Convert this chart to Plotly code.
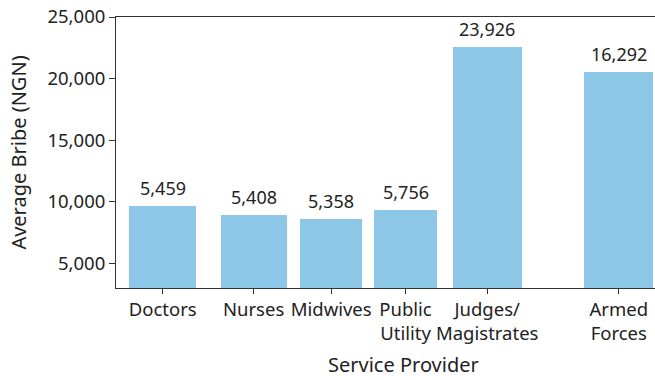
import plotly.graph_objects as go

# Data
categories = ["Doctors", "Nurses", "Midwives", "Public<br>Utility", "Judges/<br>Magistrates", "Armed<br>Forces"]
bar_heights = [9650, 8890, 8620, 9300, 22560, 20570]   # drawn bar heights
value_labels = ["5,459", "5,408", "5,358", "5,756", "23,926", "16,292"]
y_ticks = [5000, 10000, 15000, 20000, 25000]
y_tick_labels = ["5,000", "10,000", "15,000", "20,000", "25,000"]
x_title = "Service Provider"
y_title = "Average Bribe (NGN)"

# Layout (uneven bar placement in the original)
x_centers = [162.7, 253.6, 331.2, 405.5, 487.2, 618.8]
bar_widths = [66.7, 66.0, 62.3, 62.4, 69.4, 69.0]

FONT = "Noto Sans"
TXT = "#222222"

fig = go.Figure(go.Bar(
    x=x_centers, y=bar_heights, width=bar_widths,
    marker=dict(color="#8dc7e7", line=dict(width=0)),
    hoverinfo="skip",
))

for xc, h, lab in zip(x_centers, bar_heights, value_labels):
    fig.add_annotation(x=xc, y=h, text=lab, showarrow=False, yanchor="bottom",
                       yshift=4, font=dict(family=FONT, size=18, color=TXT))

# x-axis title placed as in the original (slightly right of centre, near bottom edge)
fig.add_annotation(x=403, xref="x", y=0, yref="paper", yanchor="middle", yshift=-76,
                   borderpad=0, text=x_title, showarrow=False,
                   font=dict(family=FONT, size=20, color=TXT))

fig.update_layout(
    width=655, height=380,
    margin=dict(l=116, r=0, t=17, b=92),
    paper_bgcolor="white", plot_bgcolor="white",
    showlegend=False,
    font=dict(family=FONT, size=16, color=TXT),
    bargap=0,
)
fig.update_xaxes(
    range=[116, 655], tickmode="array", tickvals=x_centers, ticktext=categories,
    tickangle=0, automargin=False,
    showgrid=False, zeroline=False, showline=True, linecolor="#333", linewidth=1,
    mirror=True, ticks="outside", ticklen=5, tickcolor="#333",
    tickfont=dict(family=FONT, size=18.5, color=TXT),
)
fig.update_yaxes(
    range=[3000, 25000], tickmode="array", tickvals=y_ticks, ticktext=y_tick_labels,
    automargin=False,
    showgrid=False, zeroline=False, showline=True, linecolor="#333", linewidth=1,
    ticks="outside", ticklen=6, tickcolor="#333",
    tickfont=dict(family=FONT, size=18.5, color=TXT),
    title=dict(text=y_title, font=dict(family=FONT, size=20, color=TXT), standoff=15),
)

fig.write_html("out.html")
